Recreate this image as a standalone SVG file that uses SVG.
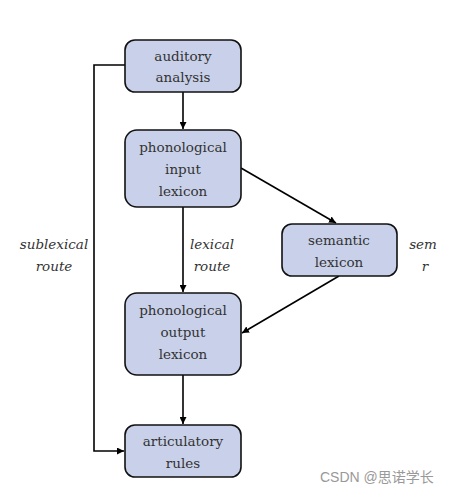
<svg xmlns="http://www.w3.org/2000/svg" width="471" height="494" viewBox="0 0 471 494">
<defs>
<style>
.box{fill:#c9d1ea;stroke:#111;stroke-width:1.6}
.t{font-family:'DejaVu Serif','Liberation Serif',serif;font-size:13.5px;fill:#333;text-anchor:middle}
.i{font-family:'DejaVu Serif','Liberation Serif',serif;font-size:13.5px;fill:#333;text-anchor:middle;font-style:italic}
.c{fill:none;stroke:#000;stroke-width:1.6}
.wm{font-family:'Liberation Sans','Noto Sans CJK SC',sans-serif;font-size:14px;fill:#999}
</style>
<marker id="ah" viewBox="0 0 10 10" refX="10" refY="5" markerWidth="7" markerHeight="7" markerUnits="userSpaceOnUse" orient="auto">
<path d="M0,0 L10,5 L0,10 Z" fill="#000"/>
</marker>
</defs>
<rect width="471" height="494" fill="#fff"/>
<g id="connectors">
<path class="c" d="M183,92 L183,129" marker-end="url(#ah)"/>
<path class="c" d="M183,207 L183,292" marker-end="url(#ah)"/>
<path class="c" d="M183,375 L183,424" marker-end="url(#ah)"/>
<path class="c" d="M241,168 L336,223" marker-end="url(#ah)"/>
<path class="c" d="M339,276 L242,333" marker-end="url(#ah)"/>
<path class="c" d="M125,65 L94,65 L94,451 L124,451" marker-end="url(#ah)"/>
</g>
<g id="auditory">
<rect class="box" x="125" y="40" width="116" height="52" rx="10"/>
<text class="t" x="183" y="61">auditory</text>
<text class="t" x="183" y="82">analysis</text>
</g>
<g id="pil">
<rect class="box" x="125" y="130" width="116" height="77" rx="12"/>
<text class="t" x="183" y="152">phonological</text>
<text class="t" x="183" y="174">input</text>
<text class="t" x="183" y="196">lexicon</text>
</g>
<g id="semantic">
<rect class="box" x="282" y="224" width="115" height="52" rx="10"/>
<text class="t" x="339" y="245">semantic</text>
<text class="t" x="339" y="267">lexicon</text>
</g>
<g id="pol">
<rect class="box" x="125" y="293" width="116" height="82" rx="12"/>
<text class="t" x="183" y="315">phonological</text>
<text class="t" x="183" y="337">output</text>
<text class="t" x="183" y="359">lexicon</text>
</g>
<g id="artic">
<rect class="box" x="125" y="425" width="116" height="52" rx="10"/>
<text class="t" x="183" y="446">articulatory</text>
<text class="t" x="183" y="468">rules</text>
</g>
<g id="labels">
<text class="i" x="54" y="249">sublexical</text>
<text class="i" x="54" y="271">route</text>
<text class="i" x="212" y="249">lexical</text>
<text class="i" x="212" y="271">route</text>
<text class="i" x="423" y="249">sem</text>
<text class="i" x="425" y="271">r</text>
</g>
<text class="wm" x="320" y="482">CSDN @思诺学长</text>
</svg>
